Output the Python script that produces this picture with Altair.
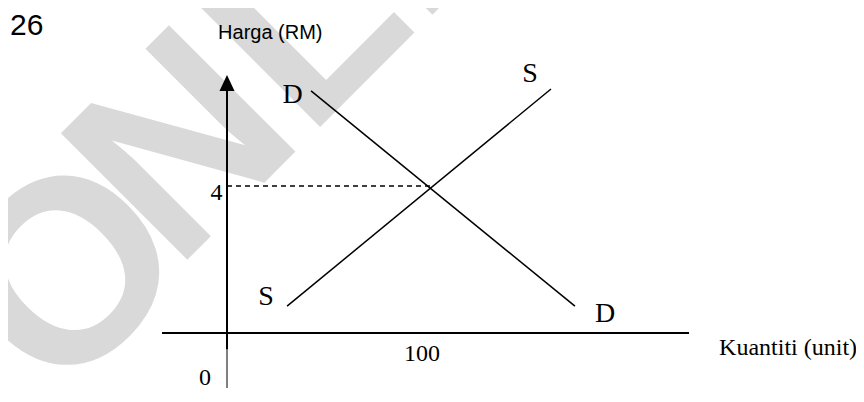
import altair as alt
import pandas as pd

# ---- data (quantity in units, price in RM) ----
curve_names = ["D", "S"]
curve_q_start = [41.4, 29.6]
curve_p_start = [6.59, 0.73]
curve_q_end = [171.4, 159.6]
curve_p_end = [0.73, 6.64]

eq_quantity = 100
eq_price = 4

x_axis_q = [-32.0, 227.6]
y_axis_thick_p = [-0.44, 6.585]
y_axis_thin_p = [-1.6, -0.44]
arrow_p = 6.585

label_text = ["D", "S", "S", "D"]
label_q = [32.3, 149.3, 19.2, 186.2]
label_p = [6.26, 6.83, 0.76, 0.30]

tick_text = ["4", "0", "100"]
tick_q = [-5.2, -10.8, 96.1]
tick_p = [3.62, -1.42, -0.76]

x_title, x_title_q, x_title_p = "Kuantiti (unit)", 242.4, -0.60
y_title, y_title_q, y_title_p = "Harga (RM)", -4.4, 7.99
q_num, q_num_q, q_num_p = "26", -106.9, 8.11

# watermark pieces
wm_text = ["O", "NLINE"]
wm_q = [-83.7, -25.6]
wm_p = [-1.96, 1.66]

W, H = 848, 380
px_q, px_p = 2.03, 36.75
q0_px, p0_px = 227 - 8, 333 - 8
xs = alt.Scale(domain=[-q0_px / px_q, (W - q0_px) / px_q], nice=False, zero=False)
ys = alt.Scale(domain=[(p0_px - H) / px_p, p0_px / px_p], nice=False, zero=False)

def X(f):
    return alt.X(f, type="quantitative", scale=xs, axis=None)

def Y(f):
    return alt.Y(f, type="quantitative", scale=ys, axis=None)

curves = pd.DataFrame({"name": curve_names, "q1": curve_q_start, "p1": curve_p_start,
                       "q2": curve_q_end, "p2": curve_p_end})
axes_df = pd.DataFrame({"q1": [x_axis_q[0]], "q2": [x_axis_q[1]], "p1": [0.0], "p2": [0.0]})
yaxis_thick = pd.DataFrame({"q1": [0.0], "q2": [0.0], "p1": [y_axis_thick_p[0]], "p2": [y_axis_thick_p[1]]})
yaxis_thin = pd.DataFrame({"q1": [0.0], "q2": [0.0], "p1": [y_axis_thin_p[0]], "p2": [y_axis_thin_p[1]]})
dash_df = pd.DataFrame({"q1": [0.0], "q2": [float(eq_quantity)], "p1": [float(eq_price)], "p2": [float(eq_price)]})
arrow_df = pd.DataFrame({"q": [0.0], "p": [arrow_p]})
labels = pd.DataFrame({"t": label_text, "q": label_q, "p": label_p})
ticks = pd.DataFrame({"t": tick_text, "q": tick_q, "p": tick_p})
wm = pd.DataFrame({"t": wm_text, "q": wm_q, "p": wm_p})

serif = "Liberation Serif"
sans = "Liberation Sans"

def rule(df, width, dash=None):
    kw = dict(color="black", strokeWidth=width)
    if dash:
        kw["strokeDash"] = dash
    return alt.Chart(df).mark_rule(**kw).encode(x=X("q1"), x2="q2", y=Y("p1"), y2="p2")

watermark = alt.Chart(wm).mark_text(
    font=sans, fontWeight="bold", fontSize=260, color="#d9d9d9",
    align="left", baseline="alphabetic", angle=315
).encode(x=X("q"), y=Y("p"), text="t:N")

layers = [
    watermark,
    rule(dash_df, 1.5, [5, 4]),
    rule(axes_df, 1.8),
    rule(yaxis_thick, 2.0),
    rule(yaxis_thin, 1.0),
    rule(curves, 1.5),
    alt.Chart(arrow_df).mark_point(
        shape="M0,-1L0.47,0L-0.47,0Z", filled=True, color="black", opacity=1, size=1024
    ).encode(x=X("q"), y=Y("p")),
    alt.Chart(labels).mark_text(font=serif, fontSize=28, color="black",
                                align="center", baseline="alphabetic"
                                ).encode(x=X("q"), y=Y("p"), text="t:N"),
    alt.Chart(ticks).mark_text(font=serif, fontSize=24, color="black",
                               align="center", baseline="alphabetic"
                               ).encode(x=X("q"), y=Y("p"), text="t:N"),
    alt.Chart(pd.DataFrame({"t": [x_title], "q": [x_title_q], "p": [x_title_p]})).mark_text(
        font=serif, fontSize=24, color="black", align="left", baseline="alphabetic"
    ).encode(x=X("q"), y=Y("p"), text="t:N"),
    alt.Chart(pd.DataFrame({"t": [y_title], "q": [y_title_q], "p": [y_title_p]})).mark_text(
        font=sans, fontSize=20, color="black", align="left", baseline="alphabetic"
    ).encode(x=X("q"), y=Y("p"), text="t:N"),
    alt.Chart(pd.DataFrame({"t": [q_num], "q": [q_num_q], "p": [q_num_p]})).mark_text(
        font=sans, fontSize=30, color="black", align="left", baseline="alphabetic"
    ).encode(x=X("q"), y=Y("p"), text="t:N"),
]

chart = alt.layer(*layers).properties(
    width=W, height=H, autosize=alt.AutoSizeParams(type="none"), padding=0
).configure_view(stroke=None)

chart.save("out.html", embed_options={"renderer": "svg", "actions": False})
